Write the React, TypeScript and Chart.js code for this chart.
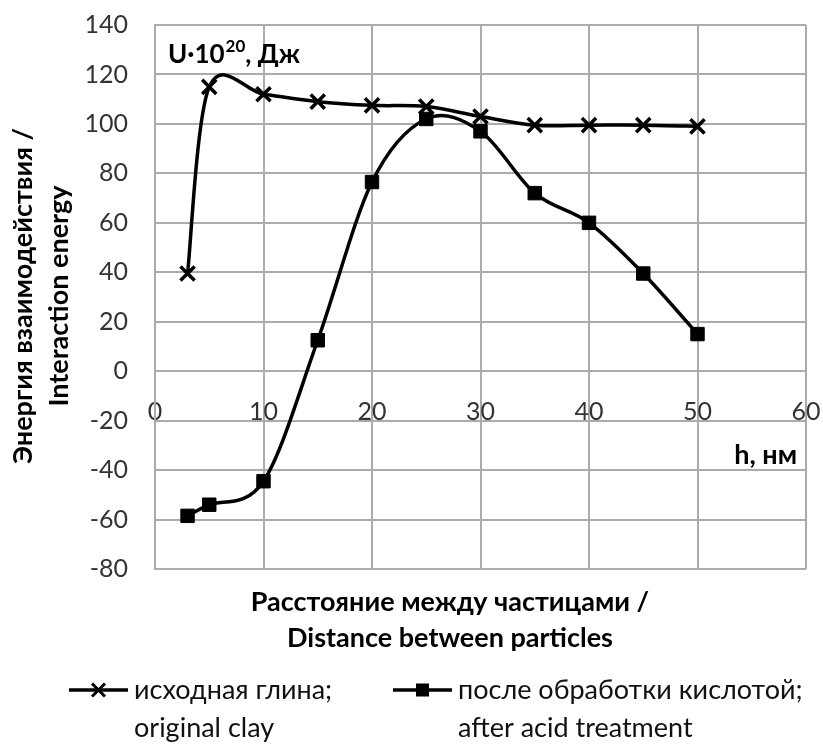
import React, { useEffect, useRef } from "react";
import { Chart, registerables } from "chart.js";

Chart.register(...registerables);

// ---- data ----
const distances = [3, 5, 10, 15, 20, 25, 30, 35, 40, 45, 50];
const originalClay = [39.5, 115, 112, 109, 107.5, 107, 103, 99.5, 99.5, 99.5, 99];
const acidTreated = [-58.5, -54, -44.5, 12.5, 76.5, 102, 97, 72, 60, 39.5, 15];
const xTicks = [0, 10, 20, 30, 40, 50, 60];
const yTicks = [-80, -60, -40, -20, 0, 20, 40, 60, 80, 100, 120, 140];
const seriesNames = ["исходная глина;", "после обработки кислотой;"];
const seriesNamesEn = ["original clay", "after acid treatment"];
const xTitle = ["Расстояние между частицами /", "Distance between particles"];
const yTitle = ["Энергия взаимодействия /", "Interaction energy"];
const yUnitBase = "U·10";
const yUnitExp = "20";
const yUnitTail = ", Дж";
const xUnit = "h, нм";

const FONT = "Lato, 'Noto Sans', sans-serif";
const GRID = "#ababab";

const noPad = (scale: any) => {
  scale.paddingTop = 0;
  scale.paddingBottom = 0;
  scale.paddingLeft = 0;
  scale.paddingRight = 0;
};

// Excel-like smoothing: uniform Catmull-Rom control points
const smoothPlugin = {
  id: "smoothPlugin",
  beforeDatasetDraw(chart: any, args: any) {
    const meta = args.meta;
    const line = meta.dataset;
    if (!line) return;
    line.updateControlPoints(chart.chartArea, "x");
    const pts = line.points || [];
    const n = pts.length;
    for (let i = 0; i < n; i++) {
      const p = pts[i];
      const prev = pts[Math.max(0, i - 1)];
      const next = pts[Math.min(n - 1, i + 1)];
      const dx = (next.x - prev.x) / 6;
      const dy = (next.y - prev.y) / 6;
      p.cp1x = p.x - dx;
      p.cp1y = p.y - dy;
      p.cp2x = p.x + dx;
      p.cp2y = p.y + dy;
    }
  },
};

const textPlugin = {
  id: "textPlugin",
  afterDraw(chart: any) {
    const ctx = chart.ctx as CanvasRenderingContext2D;
    const area = chart.chartArea;
    ctx.save();
    ctx.fillStyle = "#000";

    // x title
    ctx.font = `bold 27px ${FONT}`;
    ctx.textAlign = "center";
    ctx.textBaseline = "middle";
    const cx = 450;
    ctx.fillText(xTitle[0], cx, 602);
    ctx.fillText(xTitle[1], cx, 638);

    // y title
    ctx.save();
    ctx.translate(0, 296);
    ctx.rotate(-Math.PI / 2);
    ctx.fillText(yTitle[0], 0, 23);
    ctx.fillText(yTitle[1], 0, 59);
    ctx.restore();

    // unit annotation inside plot
    ctx.textAlign = "left";
    ctx.textBaseline = "alphabetic";
    ctx.font = `bold 26px ${FONT}`;
    let ux = area.left + 13;
    const uy = 63;
    ctx.fillText(yUnitBase, ux, uy);
    ux += ctx.measureText(yUnitBase).width;
    ctx.font = `bold 17px ${FONT}`;
    ctx.fillText(yUnitExp, ux + 1, uy - 11);
    ux += ctx.measureText(yUnitExp).width + 1;
    ctx.font = `bold 26px ${FONT}`;
    ctx.fillText(yUnitTail, ux, uy);

    // x unit
    ctx.textAlign = "right";
    ctx.font = `bold 27px ${FONT}`;
    ctx.fillText(xUnit, area.right - 9, 464);

    // legend
    const items = [
      { x0: 69, style: "crossRot" },
      { x0: 393, style: "rect" },
    ];
    items.forEach((it, i) => {
      const ly = 690;
      ctx.strokeStyle = "#000";
      ctx.lineWidth = 3.5;
      ctx.beginPath();
      ctx.moveTo(it.x0, ly);
      ctx.lineTo(it.x0 + 59, ly);
      ctx.stroke();
      const mx = it.x0 + 29.5;
      if (it.style === "crossRot") {
        const d = 6.5;
        ctx.lineWidth = 3;
        ctx.beginPath();
        ctx.moveTo(mx - d, ly - d);
        ctx.lineTo(mx + d, ly + d);
        ctx.moveTo(mx - d, ly + d);
        ctx.lineTo(mx + d, ly - d);
        ctx.stroke();
      } else {
        ctx.fillRect(mx - 6.5, ly - 6.5, 13, 13);
      }
      ctx.font = `27px ${FONT}`;
      ctx.textAlign = "left";
      ctx.textBaseline = "middle";
      ctx.fillStyle = "#111";
      ctx.fillText(seriesNames[i], it.x0 + 65, ly);
      ctx.fillText(seriesNamesEn[i], it.x0 + 65, 728);
      ctx.fillStyle = "#000";
    });
    ctx.restore();
  },
};

export default function App() {
  const ref = useRef<HTMLCanvasElement | null>(null);
  useEffect(() => {
    document.body.style.margin = "0";
    const canvas = ref.current!;
    const chart = new Chart(canvas, {
      type: "line",
      data: {
        datasets: [
          {
            label: seriesNames[0],
            data: distances.map((x, i) => ({ x, y: originalClay[i] })),
            borderColor: "#000",
            backgroundColor: "#000",
            borderWidth: 3.5,
            tension: 0.4,
            pointStyle: "crossRot",
            pointRadius: 10,
            pointBorderWidth: 3.5,
            pointBorderColor: "#000",
          },
          {
            label: seriesNames[1],
            data: distances.map((x, i) => ({ x, y: acidTreated[i] })),
            borderColor: "#000",
            backgroundColor: "#000",
            borderWidth: 3.5,
            tension: 0.4,
            pointStyle: "rect",
            pointRadius: 9.5,
            pointBorderWidth: 1,
            pointBorderColor: "#000",
          },
        ],
      },
      options: {
        animation: false,
        responsive: false,
        maintainAspectRatio: false,
        devicePixelRatio: 1,
        layout: { padding: { left: 0, top: 25, right: 17, bottom: 177 } },
        plugins: { legend: { display: false }, tooltip: { enabled: false } },
        scales: {
          x: {
            type: "linear",
            position: { y: 0 } as any,
            min: 0,
            max: 60,
            afterBuildTicks: (scale: any) => {
              scale.ticks = xTicks.map((v) => ({ value: v }));
            },
            afterFit: noPad,
            grid: { color: GRID, lineWidth: 2, drawTicks: false },
            border: { color: GRID, width: 2 },
            ticks: {
              padding: 26,
              color: "#333",
              font: { family: FONT, size: 25 },
              maxRotation: 0,
            },
          },
          y: {
            type: "linear",
            min: -80,
            max: 140,
            afterBuildTicks: (scale: any) => {
              scale.ticks = yTicks.map((v) => ({ value: v }));
            },
            afterFit: (scale: any) => {
              scale.width = 155;
              noPad(scale);
            },
            grid: { color: GRID, lineWidth: 2, drawTicks: false },
            border: { color: GRID, width: 2 },
            ticks: {
              padding: 27,
              color: "#333",
              font: { family: FONT, size: 25 },
            },
          },
        },
      },
      plugins: [smoothPlugin, textPlugin],
    });
    return () => chart.destroy();
  }, []);
  return (
    <canvas
      ref={ref}
      width={823}
      height={746}
      style={{ display: "block", width: 823, height: 746 }}
    />
  );
}
